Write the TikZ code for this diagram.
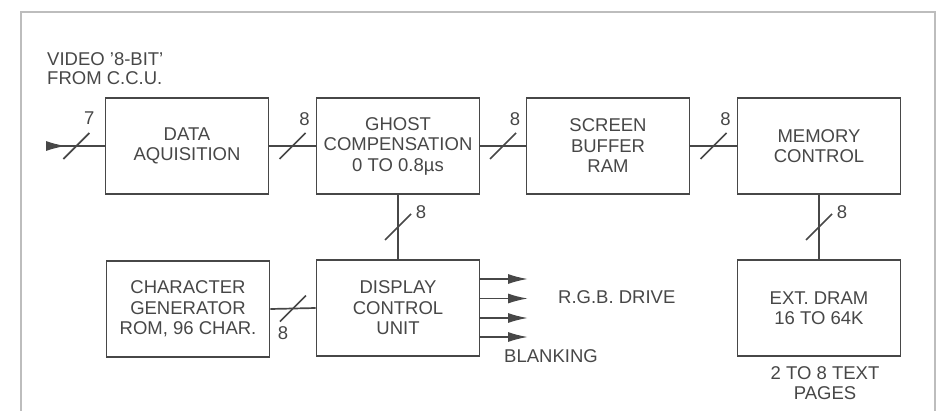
\documentclass[tikz,border=0pt]{standalone}
\usepackage{fontspec}
\setmainfont{Liberation Sans}
\usetikzlibrary{arrows.meta,calc}
\definecolor{ink}{HTML}{474747}
\definecolor{framec}{HTML}{BDBDBD}
\newcommand\busmark[4]{%
  \draw[wire] ($(#1)+(-13,13)$) -- ($(#1)+(13,-13)$);
  \node[lbl] at ($(#1)+(#2,#3)$) {#4};}
\begin{document}
\begin{tikzpicture}[x=1pt,y=-1pt,
  blk/.style={draw=ink, line width=1.7pt, minimum width=163pt, minimum height=96pt,
    inner sep=0pt, align=center, font=\fontsize{18.5}{20.5}\selectfont, text=ink},
  wire/.style={draw=ink, line width=1.7pt},
  lbl/.style={font=\fontsize{18.5}{19}\selectfont, text=ink, inner sep=0pt},
  tipsty/.style={-{Latex[length=20pt,width=10pt]}}
]
\useasboundingbox (0,0) rectangle (941,410);
\draw[framec, line width=1.5pt] (21,412) -- (21,12) -- (935,12) -- (935,412);

\node[blk] (da)  at (187,146) {DATA\\AQUISITION};
\node[blk] (gh)  at (398,146) {GHOST\\COMPENSATION\\0 TO 0.8µs};
\node[blk] (sb)  at (608,146) {SCREEN\\BUFFER\\RAM};
\node[blk] (mc)  at (819,146) {MEMORY\\CONTROL};
\node[blk] (cg)  at (188,309) {CHARACTER\\GENERATOR\\ROM, 96 CHAR.};
\node[blk] (dcu) at (398,308) {DISPLAY\\CONTROL\\UNIT};
\node[blk] (ext) at (819,308) {EXT. DRAM\\16 TO 64K};

\node[lbl, anchor=west, align=left] (hdr) at (47,69) {VIDEO ’8-BIT’\\FROM C.C.U.};
\node[lbl, anchor=west] (rgb) at (558,297) {R.G.B. DRIVE};
\node[lbl, anchor=west] (blank) at (504,356) {BLANKING};
\node[lbl, align=center, font=\fontsize{18.5}{20}\selectfont] (pg) at (825,383) {2 TO 8 TEXT\\PAGES};

% input
\coordinate (in) at (48,146);
\draw[wire] (in) -- coordinate (m1) (da.west);
\draw[wire, tipsty] (in) -- ++(18,0);
\busmark{m1}{13}{-28}{7}

\draw[wire] (da.east) -- coordinate (m2) (gh.west);
\busmark{m2}{12}{-27}{8}
\draw[wire] (gh.east) -- coordinate (m3) (sb.west);
\busmark{m3}{12}{-27}{8}
\draw[wire] (sb.east) -- coordinate (m4) (mc.west);
\busmark{m4}{12}{-27}{8}
\draw[wire] (gh.south) -- coordinate (m5) (dcu.north);
\busmark{m5}{23}{-15}{8}
\draw[wire] (mc.south) -- coordinate (m6) (ext.north);
\busmark{m6}{23}{-15}{8}
\draw[wire] (cg.east) -- coordinate (m7) (dcu.west);
\busmark{m7}{-10}{25}{8}

% outputs
\coordinate (o1) at (528,279);
\coordinate (o2) at (528,298.5);
\coordinate (o3) at (528,318);
\coordinate (o4) at (528,337);
\foreach \o in {o1,o2,o3,o4}
  \draw[wire, tipsty] (dcu.east |- \o) -- (\o);
\end{tikzpicture}
\end{document}
